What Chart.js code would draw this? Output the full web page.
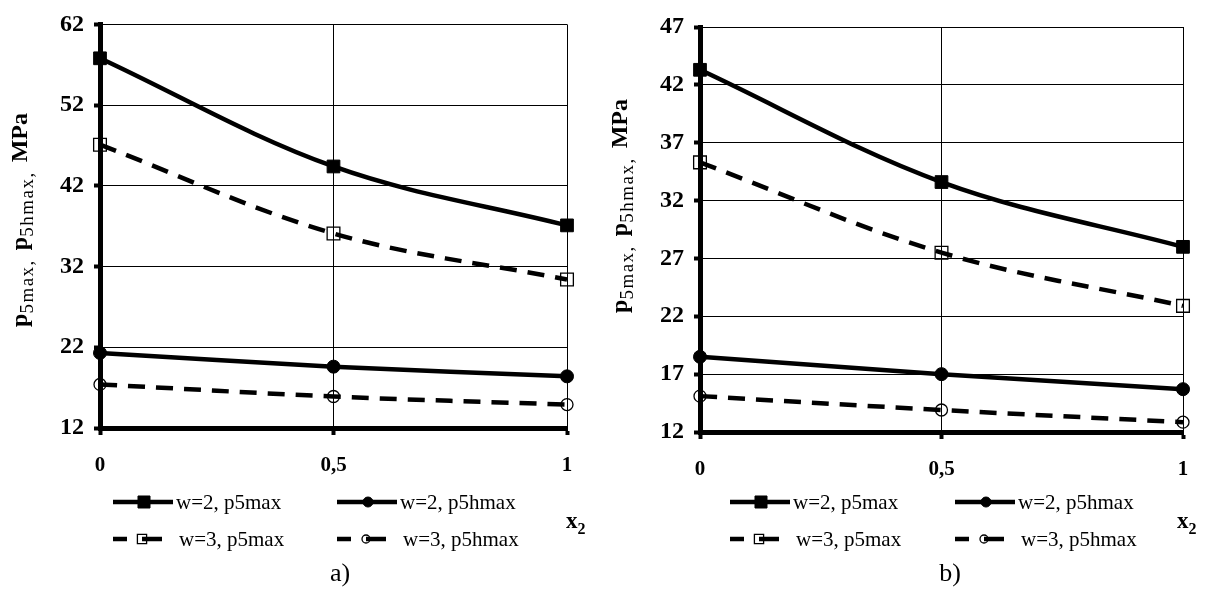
<!DOCTYPE html>
<html><head><meta charset="utf-8">
<script src="https://cdn.jsdelivr.net/npm/chart.js@4.4.1/dist/chart.umd.min.js"></script>
<style>
html,body{margin:0;padding:0;background:#fff;}
#wrap{position:relative;width:1215px;height:597px;overflow:hidden;}
.box{position:absolute;top:0;height:597px;}
</style></head><body>
<div id="wrap">
  <div class="box" style="left:0;width:600px;"><canvas id="chartA"></canvas></div>
  <div class="box" style="left:600px;width:615px;"><canvas id="chartB"></canvas></div>
</div>
<script>
// ---------- data ----------
const xValues = [0, 0.5, 1];
const xTickLabels = ['0', '0,5', '1'];
const seriesLabels = ['w=2, p5max', 'w=2, p5hmax', 'w=3, p5max', 'w=3, p5hmax'];

const aYTicks = [12, 22, 32, 42, 52, 62];
const aW2p5max  = [57.8, 44.4, 37.1];
const aW2p5hmax = [21.3, 19.6, 18.4];
const aW3p5max  = [47.1, 36.1, 30.4];
const aW3p5hmax = [17.4, 15.9, 14.9];

const bYTicks = [12, 17, 22, 27, 32, 37, 42, 47];
const bW2p5max  = [43.3, 33.6, 28.0];
const bW2p5hmax = [18.5, 17.0, 15.7];
const bW3p5max  = [35.3, 27.5, 22.9];
const bW3p5hmax = [15.1, 13.9, 12.85];

// ---------- styles ----------
const FONT = '"Liberation Serif", "Times New Roman", serif';
const styles = [
  {dash: [], pointStyle: 'rect', radius: 9, fill: '#000', bw: 1, lgR: 8.5},
  {dash: [], pointStyle: 'circle', radius: 6.5, fill: '#000', bw: 1, lgR: 5},
  {dash: [17, 11], pointStyle: 'rect', radius: 9, fill: 'rgba(0,0,0,0)', bw: 1.3, lgR: 6.5},
  {dash: [17, 11], pointStyle: 'circle', radius: 6, fill: 'rgba(0,0,0,0)', bw: 1.3, lgR: 4}
];

function makeDatasets(series) {
  return series.map((vals, i) => ({
    label: seriesLabels[i],
    data: vals.map((v, j) => ({x: xValues[j], y: v})),
    borderColor: '#000', borderWidth: 4.5, borderDash: styles[i].dash, borderCapStyle: 'butt',
    tension: 0.35, fill: false, clip: false,
    pointStyle: styles[i].pointStyle, pointRadius: styles[i].radius, pointHoverRadius: styles[i].radius,
    pointBackgroundColor: styles[i].fill, pointBorderColor: '#000', pointBorderWidth: styles[i].bw
  }));
}

function drawMarker(ctx, style, x, y, r) {
  ctx.save();
  ctx.setLineDash([]);
  ctx.lineWidth = style.bw;
  ctx.strokeStyle = '#000';
  ctx.fillStyle = style.fill;
  ctx.beginPath();
  if (style.pointStyle === 'rect') {
    const s = Math.SQRT1_2 * r;
    ctx.rect(x - s, y - s, 2 * s, 2 * s);
  } else {
    ctx.arc(x, y, r, 0, Math.PI * 2);
  }
  ctx.fill();
  ctx.stroke();
  ctx.restore();
}

function annotPlugin(o) {
  return {
    id: 'annot' + o.panel,
    afterDraw(chart) {
      const ctx = chart.ctx;
      // ----- y-axis title with subscripts -----
      ctx.save();
      ctx.translate(o.titleX, o.titleY);
      ctx.rotate(-Math.PI / 2);
      ctx.fillStyle = '#000';
      ctx.textBaseline = 'alphabetic';
      const mainF = 'bold 24px ' + FONT, subF = '19px ' + FONT;
      const segs = [['p', 0], ['5max,', 1], [' ', 0], ['p', 0], ['5hmax,', 1], [' ', 0], ['MPa', 0]];
      let total = 0;
      const widths = segs.map(([t, s]) => {
        ctx.font = s ? subF : mainF;
        ctx.letterSpacing = s ? '1.5px' : '0px';
        const w = ctx.measureText(t).width + (t === ' ' ? 3 : 0);
        total += w; return w;
      });
      let cx = -total / 2;
      segs.forEach(([t, s], i) => {
        ctx.font = s ? subF : mainF;
        ctx.letterSpacing = s ? '1.5px' : '0px';
        ctx.fillText(t, cx, s ? 6 : 0);
        cx += widths[i];
      });
      ctx.restore();

      // ----- legend -----
      const metas = chart.data.datasets;
      const rows = [o.row1Y, o.row1Y, o.row2Y, o.row2Y];
      metas.forEach((ds, i) => {
        const st = styles[i];
        const sx = o.legendStarts[i % 2];
        const y = rows[i];
        ctx.save();
        ctx.strokeStyle = '#000';
        ctx.lineWidth = 4.5;
        ctx.lineCap = 'butt';
        ctx.beginPath();
        let mx;
        if (st.dash.length === 0) {
          ctx.moveTo(sx, y); ctx.lineTo(sx + 60, y);
          mx = sx + 31;
        } else {
          ctx.moveTo(sx, y); ctx.lineTo(sx + 14, y);
          mx = sx + 29;
          ctx.moveTo(mx, y); ctx.lineTo(sx + 49, y);
        }
        ctx.stroke();
        ctx.restore();
        drawMarker(ctx, st, mx, y, st.lgR);
        ctx.save();
        ctx.fillStyle = '#000';
        ctx.font = '21px ' + FONT;
        ctx.textBaseline = 'middle';
        ctx.textAlign = 'left';
        ctx.fillText(ds.label, sx + (st.dash.length ? 66 : 63), y + 1);
        ctx.restore();
      });

      // ----- x-axis title x2 -----
      ctx.save();
      ctx.fillStyle = '#000';
      ctx.textBaseline = 'alphabetic';
      ctx.font = 'bold 23px ' + FONT;
      ctx.fillText('x', o.x2X, o.x2Y);
      const xw = ctx.measureText('x').width;
      ctx.font = 'bold 16px ' + FONT;
      ctx.fillText('2', o.x2X + xw, o.x2Y + 6);
      // ----- panel label -----
      ctx.font = '26px ' + FONT;
      ctx.textAlign = 'center';
      ctx.textBaseline = 'middle';
      ctx.fillText(o.panel, o.panelX, o.panelY);
      ctx.restore();
    }
  };
}

function makeChart(id, series, yTicks, o) {
  const H = 597;
  return new Chart(document.getElementById(id), {
    type: 'line',
    data: {datasets: makeDatasets(series)},
    options: {
      responsive: true, maintainAspectRatio: false, animation: false,
      events: [],
      layout: {padding: {top: o.plotTop, right: o.canvasW - o.plotRight, left: 0, bottom: 0}},
      plugins: {legend: {display: false}, title: {display: false}, tooltip: {enabled: false}},
      scales: {
        x: {
          type: 'linear', min: 0, max: 1,
          afterBuildTicks: s => { s.ticks = xValues.map(v => ({value: v})); },
          afterFit: s => { s.height = H - o.plotBottom; },
          ticks: {
            callback: v => xTickLabels[xValues.indexOf(v)],
            font: {family: FONT, size: 21, weight: 'bold'}, color: '#000',
            padding: 18, maxRotation: 0, autoSkip: false
          },
          grid: {color: '#000', lineWidth: 1, drawTicks: true, tickLength: 7, tickWidth: 4, tickColor: '#000'},
          border: {color: '#000', width: 5}
        },
        y: {
          type: 'linear', min: yTicks[0], max: yTicks[yTicks.length - 1],
          afterBuildTicks: s => { s.ticks = yTicks.map(v => ({value: v})); },
          afterFit: s => { s.width = o.plotLeft; },
          ticks: {
            callback: v => String(v),
            font: {family: FONT, size: 24, weight: 'bold'}, color: '#000', padding: 10
          },
          grid: {color: '#000', lineWidth: 1, drawTicks: true, tickLength: 6, tickWidth: 4, tickColor: '#000'},
          border: {color: '#000', width: 5}
        }
      }
    },
    plugins: [annotPlugin(o)]
  });
}

makeChart('chartA', [aW2p5max, aW2p5hmax, aW3p5max, aW3p5hmax], aYTicks, {
  panel: 'a)', canvasW: 600, plotLeft: 100, plotRight: 567, plotTop: 17, plotBottom: 428,
  titleX: 27, titleY: 220, legendStarts: [113, 337], row1Y: 502, row2Y: 539,
  x2X: 566, x2Y: 528, panelX: 340, panelY: 574
});
makeChart('chartB', [bW2p5max, bW2p5hmax, bW3p5max, bW3p5hmax], bYTicks, {
  panel: 'b)', canvasW: 615, plotLeft: 100, plotRight: 583, plotTop: 27, plotBottom: 432,
  titleX: 27, titleY: 206, legendStarts: [130, 355], row1Y: 502, row2Y: 539,
  x2X: 577, x2Y: 528, panelX: 350, panelY: 574
});
</script>
</body></html>
